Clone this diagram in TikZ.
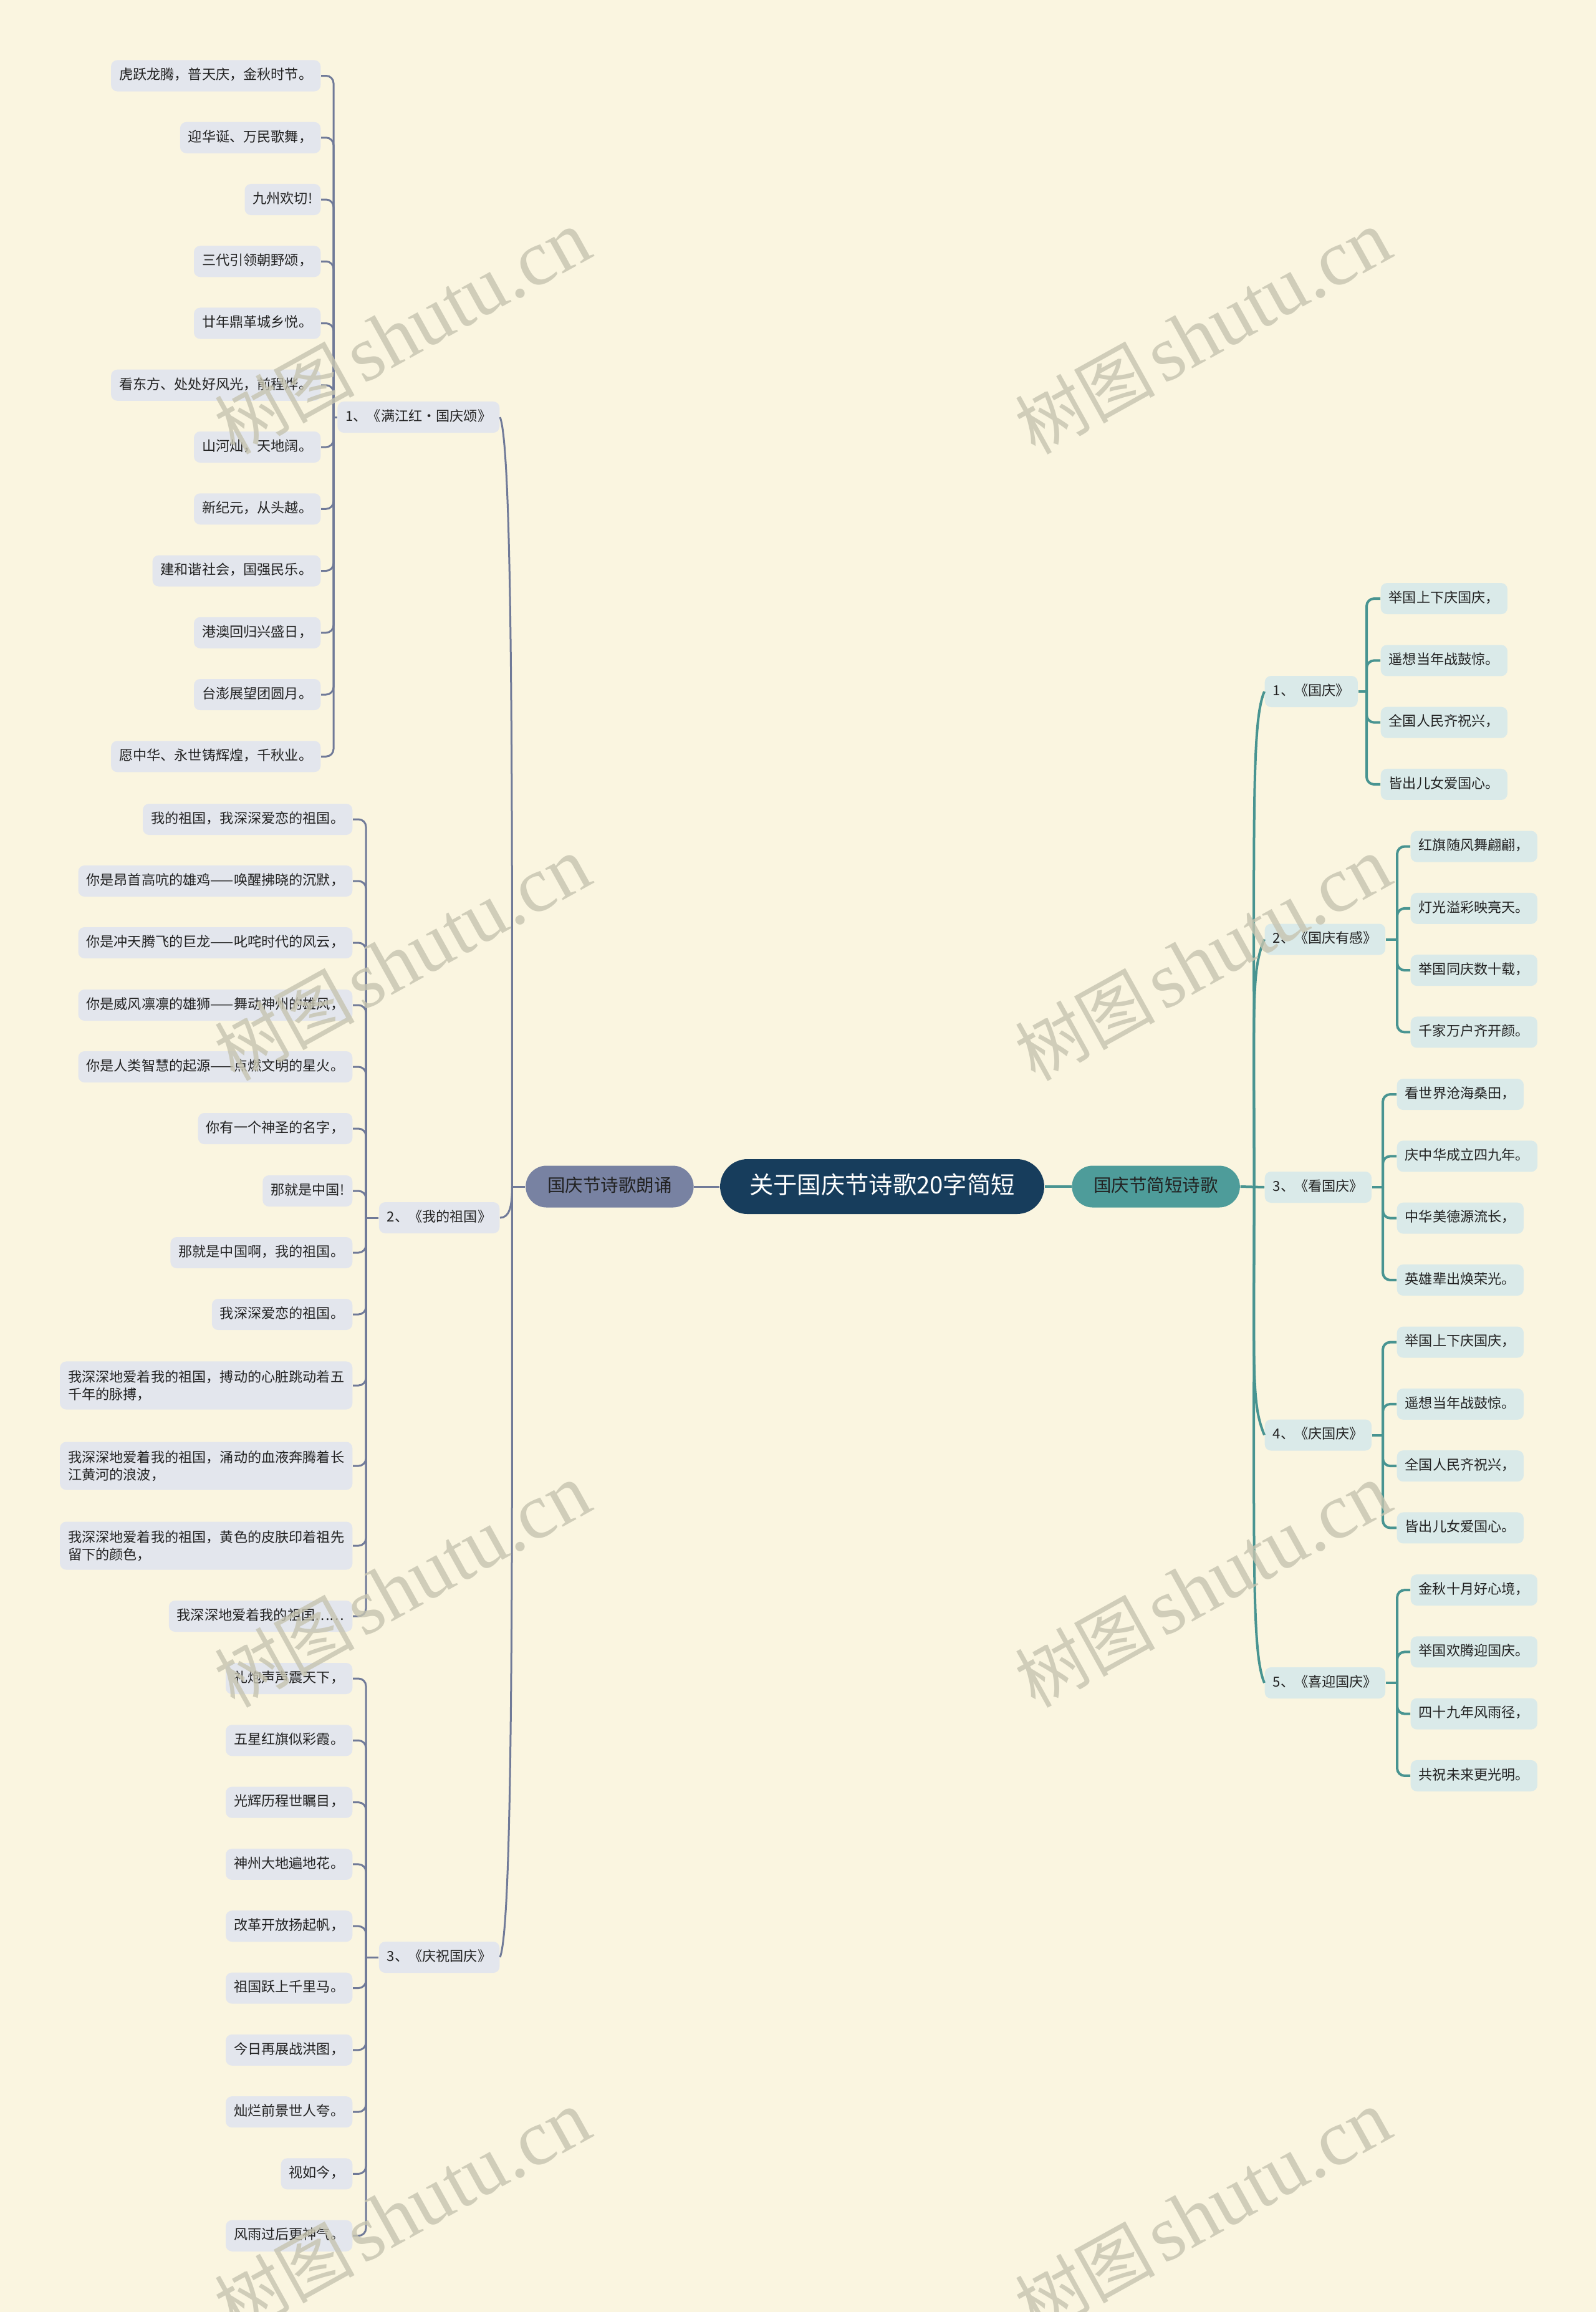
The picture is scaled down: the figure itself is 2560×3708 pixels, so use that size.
\documentclass[tikz,border=0pt]{standalone}
\usepackage{fontspec}
\newfontfamily\cjk{Noto Sans CJK SC}
\newfontfamily\wmserif{Liberation Serif}
\usetikzlibrary{positioning, calc}

\definecolor{bgcream}{RGB}{250,245,224}
\definecolor{rootblue}{RGB}{23,61,92}
\definecolor{slatemain}{RGB}{120,130,162}
\definecolor{slateline}{RGB}{112,122,152}
\definecolor{slatebox}{RGB}{227,230,237}
\definecolor{tealmain}{RGB}{78,156,154}
\definecolor{tealline}{RGB}{72,148,145}
\definecolor{tealbox}{RGB}{218,234,233}
\definecolor{inktext}{RGB}{34,34,34}
\definecolor{wmgray}{RGB}{198,196,176}

\tikzset{
  leafbox/.style={rounded corners=0.1cm, inner xsep=0.13cm, inner ysep=0.14cm,
    minimum height=0.5cm, text=inktext, font=\cjk\fontsize{6.3pt}{7.95pt}\selectfont},
  lleaf/.style={leafbox, fill=slatebox, text height=0.17cm, text depth=0.045cm},
  lleaf2/.style={leafbox, fill=slatebox, align=left},
  rleaf/.style={leafbox, fill=tealbox, text height=0.17cm, text depth=0.045cm},
  lsub/.style={lleaf},
  rsub/.style={rleaf},
  mainbox/.style={rounded corners=0.335cm, minimum height=0.67cm, inner xsep=0.35cm,
    text=inktext, text height=0.23cm, text depth=0.06cm,
    font=\cjk\fontsize{8.1pt}{10pt}\selectfont},
  root/.style={fill=rootblue, text=white, rounded corners=0.44cm, minimum height=0.88cm,
    inner xsep=0.47cm, text height=0.31cm, text depth=0.08cm,
    font=\cjk\fontsize{10.9pt}{13pt}\selectfont},
  lline/.style={draw=slateline, line width=0.03cm},
  rline/.style={draw=tealline, line width=0.04cm},
  wmark/.style={text=wmgray, opacity=0.8, rotate=29, inner sep=0pt},
}

\begin{document}
\begin{tikzpicture}[x=0.01cm, y=-0.01cm]

\useasboundingbox (0,0) rectangle (2560,3708);
\fill[bgcream] (0,0) rectangle (2560,3708);

% centre and the two main branches
\node[root] (root) at (1415,1903) {关于国庆节诗歌20字简短};
\node[mainbox, fill=slatemain, left=0.41cm of root] (recite) {国庆节诗歌朗诵};
\node[mainbox, fill=tealmain, right=0.43cm of root] (short) {国庆节简短诗歌};

\coordinate (ls) at ([xshift=-0.21cm]recite.west);
\coordinate (rs) at ([xshift=0.22cm]short.east);

\draw[lline] (root) -- (recite);
\draw[rline] (root) -- (short);

% left poems
\node[lsub, anchor=east] (m1) at (802,669) {1、《满江红·国庆颂》};
\node[lsub, anchor=east] (m2) at (802,1953) {2、《我的祖国》};
\node[lsub, anchor=east] (m3) at (802,3139) {3、《庆祝国庆》};

\coordinate (j1) at (535,669);
\coordinate (j2) at (587,1953);
\coordinate (j3) at (587,3139);

\draw[lline] (recite.west) -- (ls);
\draw[lline] (ls) .. controls +(0,-600) and +(21,51) .. (m1.east);
\draw[lline] (ls) .. controls +(0,35) and +(14,0) .. (m2.east);
\draw[lline] (ls) .. controls +(0,600) and +(21,-51) .. (m3.east);
\draw[lline] (m1.west) -- (j1);
\draw[lline] (m2.west) -- (j2);
\draw[lline] (m3.west) -- (j3);

\foreach \txt [count=\i] in {虎跃龙腾，普天庆，金秋时节。, 迎华诞、万民歌舞，, 九州欢切!,
    三代引领朝野颂，, 廿年鼎革城乡悦。, 看东方、处处好风光，前程烨。, 山河灿，天地阔。,
    新纪元，从头越。, 建和谐社会，国强民乐。, 港澳回归兴盛日，, 台澎展望团圆月。,
    愿中华、永世铸辉煌，千秋业。} {
  \node[lleaf, anchor=east] (a\i) at (515,{121.5+(\i-1)*99.25}) {\txt};
  \draw[lline, rounded corners=0.12cm] (a\i.east) -| (j1);
}

\foreach \y/\sty/\txt [count=\i] in {1314/lleaf/我的祖国，我深深爱恋的祖国。,
    1413/lleaf/你是昂首高吭的雄鸡——唤醒拂晓的沉默，,
    1512/lleaf/你是冲天腾飞的巨龙——叱咤时代的风云，,
    1612/lleaf/你是威风凛凛的雄狮——舞动神州的雄风，,
    1711/lleaf/你是人类智慧的起源——点燃文明的星火。,
    1810/lleaf/你有一个神圣的名字，, 1910/lleaf/那就是中国!,
    2009/lleaf/那就是中国啊，我的祖国。, 2108/lleaf/我深深爱恋的祖国。,
    2222/lleaf2/{我深深地爱着我的祖国，搏动的心脏跳动着五\\千年的脉搏，},
    2351/lleaf2/{我深深地爱着我的祖国，涌动的血液奔腾着长\\江黄河的浪波，},
    2479/lleaf2/{我深深地爱着我的祖国，黄色的皮肤印着祖先\\留下的颜色，},
    2592/lleaf/我深深地爱着我的祖国……} {
  \node[\sty, anchor=east] (b\i) at (566,\y) {\txt};
  \draw[lline, rounded corners=0.12cm] (b\i.east) -| (j2);
}

\foreach \txt [count=\i] in {礼炮声声震天下，, 五星红旗似彩霞。, 光辉历程世瞩目，,
    神州大地遍地花。, 改革开放扬起帆，, 祖国跃上千里马。, 今日再展战洪图，,
    灿烂前景世人夸。, 视如今，, 风雨过后更神气。} {
  \node[lleaf, anchor=east] (c\i) at (566,{2692+(\i-1)*99.3}) {\txt};
  \draw[lline, rounded corners=0.12cm] (c\i.east) -| (j3);
}

% right poems
\node[rsub, anchor=west] (n1) at (2028,1109) {1、《国庆》};
\node[rsub, anchor=west] (n2) at (2028,1506.5) {2、《国庆有感》};
\node[rsub, anchor=west] (n3) at (2028,1904) {3、《看国庆》};
\node[rsub, anchor=west] (n4) at (2028,2301.5) {4、《庆国庆》};
\node[rsub, anchor=west] (n5) at (2028,2699) {5、《喜迎国庆》};

\coordinate (k1) at (2192,1109);
\coordinate (k2) at (2241,1506.5);
\coordinate (k3) at (2218,1904);
\coordinate (k4) at (2218,2301.5);
\coordinate (k5) at (2241,2699);

\draw[rline] (short.east) -- (n3.west);
\draw[rline] (rs) .. controls +(0,-600) and +(-21,51) .. (n1.west);
\draw[rline] (rs) .. controls +(0,-300) and +(-21,51) .. (n2.west);
\draw[rline] (rs) .. controls +(0,300) and +(-21,-51) .. (n4.west);
\draw[rline] (rs) .. controls +(0,600) and +(-21,-51) .. (n5.west);
\foreach \k in {1,...,5} {
  \draw[rline] (n\k.east) -- (k\k);
}

\foreach \txt [count=\i] in {举国上下庆国庆，, 遥想当年战鼓惊。, 全国人民齐祝兴，, 皆出儿女爱国心。} {
  \node[rleaf, anchor=west] (pa\i) at (2214,{1109+(\i-2.5)*99.3}) {\txt};
  \draw[rline, rounded corners=0.12cm] (pa\i.west) -| (k1);
}
\foreach \txt [count=\i] in {红旗随风舞翩翩，, 灯光溢彩映亮天。, 举国同庆数十载，, 千家万户齐开颜。} {
  \node[rleaf, anchor=west] (pb\i) at (2262,{1506.5+(\i-2.5)*99.3}) {\txt};
  \draw[rline, rounded corners=0.12cm] (pb\i.west) -| (k2);
}
\foreach \txt [count=\i] in {看世界沧海桑田，, 庆中华成立四九年。, 中华美德源流长，, 英雄辈出焕荣光。} {
  \node[rleaf, anchor=west] (pc\i) at (2240,{1904+(\i-2.5)*99.3}) {\txt};
  \draw[rline, rounded corners=0.12cm] (pc\i.west) -| (k3);
}
\foreach \txt [count=\i] in {举国上下庆国庆，, 遥想当年战鼓惊。, 全国人民齐祝兴，, 皆出儿女爱国心。} {
  \node[rleaf, anchor=west] (pd\i) at (2240,{2301.5+(\i-2.5)*99.3}) {\txt};
  \draw[rline, rounded corners=0.12cm] (pd\i.west) -| (k4);
}
\foreach \txt [count=\i] in {金秋十月好心境，, 举国欢腾迎国庆。, 四十九年风雨径，, 共祝未来更光明。} {
  \node[rleaf, anchor=west] (pe\i) at (2262,{2699+(\i-2.5)*99.3}) {\txt};
  \draw[rline, rounded corners=0.12cm] (pe\i.west) -| (k5);
}

% watermark
\foreach \wx in {645,1929} {
  \foreach \wy [count=\w] in {533,1538,2543,3548} {
    \node[wmark] (wm\wx-\w) at (\wx,\wy)
      {{\cjk\fontsize{32pt}{36pt}\selectfont 树图} {\wmserif\fontsize{36pt}{40pt}\selectfont shutu.cn}};
  }
}

\end{tikzpicture}
\end{document}
